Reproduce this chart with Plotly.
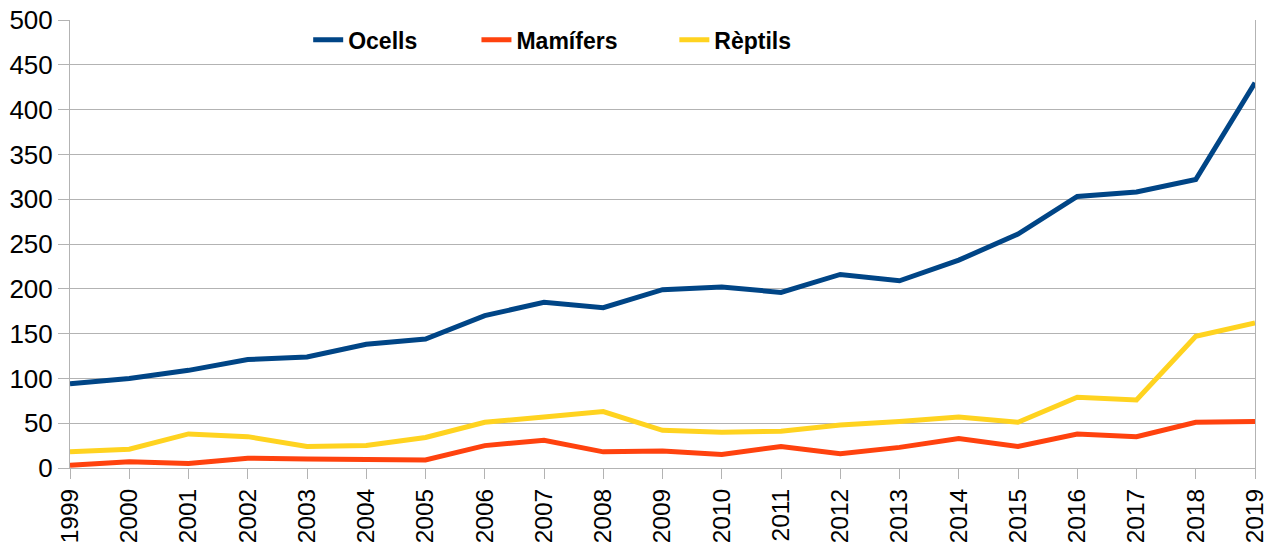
import plotly.graph_objects as go

years = list(range(1999, 2020))
ocells = [94, 100, 109, 121, 124, 138, 144, 170, 185, 179, 199, 202, 196, 216, 209, 232, 261, 303, 308, 322, 430]
mamifers = [3, 7, 5, 11, 10, 9, 9, 25, 31, 18, 19, 15, 24, 16, 23, 33, 24, 38, 35, 51, 52]
reptils = [18, 21, 38, 35, 24, 25, 34, 51, 57, 63, 42, 40, 41, 48, 52, 57, 51, 79, 76, 147, 162]

names = ["Ocells", "Mamífers", "Rèptils"]
colors = ["#004586", "#ff420e", "#ffd320"]
series = [ocells, mamifers, reptils]
legend_ids = ["legend", "legend2", "legend3"]
legend_x = [0.201, 0.343, 0.510]

fig = go.Figure()
for name, vals, col, lid in zip(names, series, colors, legend_ids):
    fig.add_trace(go.Scatter(x=years, y=vals, name=name, mode="lines",
                             line=dict(color=col, width=5), legend=lid))

grid = "#b3b3b3"
legend_common = dict(orientation="h", yanchor="middle", y=0.956, xanchor="left",
                     bgcolor="rgba(0,0,0,0)",
                     font=dict(family="Liberation Sans Narrow, Liberation Sans, Arial", size=23,
                               color="#000000", weight="bold"))
layout_legends = {}
for lid, lx in zip(legend_ids, legend_x):
    layout_legends[lid] = dict(x=lx, **legend_common)

fig.update_layout(
    width=1281, height=546,
    margin=dict(l=70, r=26, t=19.5, b=77.5, autoexpand=False),
    paper_bgcolor="white", plot_bgcolor="white",
    font=dict(family="Liberation Sans, Arial", size=26, color="#000000"),
    showlegend=True,
    **layout_legends,
)
fig.update_xaxes(range=[1999, 2019], tickmode="array", tickvals=years,
                 ticktext=[str(y) for y in years], tickangle=-90,
                 tickfont=dict(size=24.5),
                 showgrid=False, showline=True, linecolor=grid, linewidth=1,
                 ticks="outside", ticklen=10, tickcolor=grid,
                 zeroline=False, automargin=False)
fig.update_yaxes(range=[0, 500], dtick=50, tick0=0,
                 showgrid=True, gridcolor=grid, gridwidth=1,
                 showline=True, linecolor=grid, linewidth=1, mirror=True,
                 ticks="outside", ticklen=11, tickcolor=grid,
                 zeroline=False, automargin=False)

fig.write_html("out.html", config={"displayModeBar": False},
               post_script="document.body.style.margin='0';document.body.style.padding='0';"
                           "document.body.style.overflow='hidden';")
